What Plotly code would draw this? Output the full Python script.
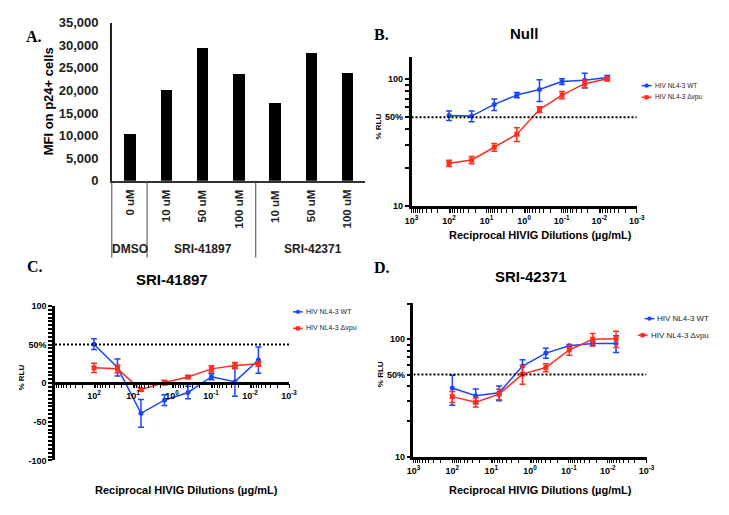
import plotly.graph_objects as go

W, H = 729, 515

# ---------------- data ----------------
# Panel A
a_categories = ["0 uM", "10 uM", "50 uM", "100 uM", "10 uM", "50 uM", "100 uM"]
a_groups = ["DMSO", "SRI-41897", "SRI-42371"]
a_mfi = [10500, 20200, 29500, 23700, 17400, 28300, 24000]
a_yticks = [0, 5000, 10000, 15000, 20000, 25000, 30000, 35000]

# Dilution series (µg/mL) for B, C, D
dilutions = [100, 25, 6.25, 1.5625, 0.390625, 0.09765625, 0.0244140625, 0.006103515625]
x_tickvals = [1000, 100, 10, 1, 0.1, 0.01, 0.001]
x_ticktext = ["10<sup>3</sup>", "10<sup>2</sup>", "10<sup>1</sup>", "10<sup>0</sup>",
              "10<sup>-1</sup>", "10<sup>-2</sup>", "10<sup>-3</sup>"]
y_log_tickvals = [10, 50, 100]
y_log_ticktext = ["10", "50%", "100"]
c_y_tickvals = [-100, -50, 0, 50, 100]
c_y_ticktext = ["-100", "-50", "0", "50%", "100"]
series_names = ["HIV NL4-3 WT", "HIV NL4-3 Δvpu"]

# Panel B (Null)
b_wt = [51.5, 51.0, 63.0, 74.6, 82.4, 95.3, 97.7, 102.4]
b_wt_err = [4.5, 5.0, 6.5, 3.5, 16.0, 5.0, 13.0, 4.0]
b_dvpu = [21.7, 23.0, 29.0, 36.7, 57.3, 74.6, 91.6, 100.0]
b_dvpu_err = [1.2, 1.5, 2.0, 4.5, 3.0, 5.0, 6.0, 4.0]

# Panel C (SRI-41897)
c_wt = [50.6, 20.3, -39.0, -22.0, -12.0, 8.4, 2.0, 30.0]
c_wt_err = [7, 11, 18, 7, 8, 4, 19, 17]
c_dvpu = [20.0, 18.6, -8.4, 0.8, 8.0, 18.6, 22.8, 25.0]
c_dvpu_err = [6, 5, 2, 3, 2, 4, 4, 3]

# Panel D (SRI-42371)
d_wt = [38.4, 33.0, 34.9, 59.0, 76.2, 88.1, 92.0, 92.0]
d_wt_err = [11, 4.7, 5, 8, 7.5, 2, 4, 15]
d_dvpu = [32.4, 29.0, 34.0, 50.4, 57.3, 81.0, 100.0, 101.0]
d_dvpu_err = [3.5, 2.5, 3.5, 9, 4.5, 8, 12, 16]

half_max = 50

# ---------------- helpers ----------------
BLUE = "rgb(25,70,255)"
RED = "rgb(255,45,30)"
SANS = "Liberation Sans, Arial, sans-serif"
SERIF = "Liberation Serif, Times New Roman, serif"


def fx(px):
    return px / W


def fy(py):
    return 1 - py / H


def with_minor(major_vals, major_text, minor_vals):
    """Merge unlabeled minor tick positions into a labelled tick list."""
    vals = list(major_vals)
    text = list(major_text)
    for v in minor_vals:
        if all(abs(v - m) > 1e-12 * max(1, abs(m)) for m in major_vals):
            vals.append(v)
            text.append("")
    return vals, text


log_minor_x = [m * 10 ** k for k in range(-3, 3) for m in range(2, 10)]
log_minor_y = [m * 10 for m in range(2, 10)] + [200]
lin_minor_c = list(range(-100, 101, 5))

fig = go.Figure()

# ---------------- Panel A ----------------
fig.add_trace(go.Bar(x=list(range(len(a_mfi))), y=a_mfi, width=0.32,
                     marker=dict(color="black", line=dict(width=0)),
                     xaxis="x", yaxis="y", showlegend=False))


# ---------------- line panels ----------------
def add_pair(xa, ya, wt, wt_err, dv, dv_err):
    for vals, errs, col, sym in ((wt, wt_err, BLUE, "circle"), (dv, dv_err, RED, "square")):
        fig.add_trace(go.Scatter(
            x=dilutions, y=vals, mode="lines+markers", xaxis=xa, yaxis=ya,
            line=dict(color=col, width=1.5),
            marker=dict(color=col, symbol=sym, size=5),
            error_y=dict(type="data", array=errs, visible=True, color=col,
                         thickness=1.5, width=3),
            showlegend=False, cliponaxis=False))
    fig.add_trace(go.Scatter(
        x=[x_tickvals[0], x_tickvals[-1]], y=[half_max, half_max], mode="lines",
        xaxis=xa, yaxis=ya, line=dict(color="black", width=2, dash="2px,2px"),
        showlegend=False, hoverinfo="skip"))


add_pair("x2", "y2", b_wt, b_wt_err, b_dvpu, b_dvpu_err)
add_pair("x3", "y3", c_wt, c_wt_err, c_dvpu, c_dvpu_err)
add_pair("x4", "y4", d_wt, d_wt_err, d_dvpu, d_dvpu_err)

tickfont = dict(family=SANS, size=9, color="black", weight="bold")


def log_xaxis(x0, x1, anchor, tv, tt, position=None):
    vals, text = with_minor(tv, tt, log_minor_x)
    d = dict(type="log", range=[3, -3], domain=[fx(x0), fx(x1)],
             tickmode="array", tickvals=vals, ticktext=text, tickfont=tickfont,
             ticks="outside", ticklen=4, tickwidth=1.2, tickcolor="black",
             showline=True, linecolor="black", linewidth=2.5,
             showgrid=False, zeroline=False)
    if position is None:
        d["anchor"] = anchor
    else:
        d["anchor"] = "free"
        d["position"] = position
    return d


def log_yaxis(top, bottom, anchor, rng):
    vals, text = with_minor(y_log_tickvals, y_log_ticktext, log_minor_y)
    return dict(type="log", range=rng, domain=[fy(bottom), fy(top)], anchor=anchor,
                tickmode="array", tickvals=vals, ticktext=text,
                tickfont=tickfont, ticks="outside", ticklen=4, tickwidth=2,
                tickcolor="black", showline=True, linecolor="black", linewidth=2.5,
                showgrid=False, zeroline=False)


c_vals, c_text = with_minor(c_y_tickvals, c_y_ticktext, lin_minor_c)

fig.update_layout(
    width=W, height=H, margin=dict(l=0, r=0, t=0, b=0),
    paper_bgcolor="white", plot_bgcolor="white",
    showlegend=False, bargap=0,
    xaxis=dict(domain=[fx(107), fx(366)], range=[-0.5, 6.5], anchor="y",
               showticklabels=False, ticks="", showline=True, linecolor="#333",
               linewidth=1.5, showgrid=False, zeroline=False),
    yaxis=dict(domain=[fy(179), fy(16)], range=[0, 35000], anchor="x",
               tickmode="array", tickvals=a_yticks, tickformat=",",
               tickfont=dict(family=SANS, size=13, color="#222", weight="bold"),
               ticks="", ticklabelstandoff=9, showline=True, linecolor="#222",
               linewidth=1.5, showgrid=False, zeroline=False),
    xaxis2=log_xaxis(413, 643, "y2", x_tickvals, x_ticktext),
    yaxis2=log_yaxis(52, 205, "x2", [1, 2.168]),
    xaxis3=log_xaxis(49, 288, None, x_tickvals[1:], x_ticktext[1:], position=fy(387)),
    yaxis3=dict(range=[-100, 100], domain=[fy(467), fy(308)], anchor="x3",
                tickmode="array", tickvals=c_vals, ticktext=c_text, tickfont=tickfont,
                ticks="outside", ticklen=4, tickwidth=1.5, tickcolor="black",
                showline=True, linecolor="black", linewidth=2.5,
                showgrid=False, zeroline=False),
    xaxis4=log_xaxis(415, 653, "y4", x_tickvals, x_ticktext),
    yaxis4=log_yaxis(305, 463, "x4", [1, 2.308]),
)

shapes = []
annotations = []

# Panel A table
for xp in (107, 143, 254):
    shapes.append(dict(type="line", xref="paper", yref="paper", x0=fx(xp), x1=fx(xp),
                       y0=fy(179), y1=fy(258), line=dict(color="#444", width=1)))
for i, lab in enumerate(a_categories):
    annotations.append(dict(x=i, xref="x", y=fy(186), yref="paper", text="<b>%s</b>" % lab,
                            textangle=-90, xanchor="center", yanchor="top", showarrow=False,
                            font=dict(family=SANS, size=11.5, color="#222")))
for lab, xc in zip(a_groups, (126, 200, 312)):
    annotations.append(dict(x=fx(xc), y=fy(249), xref="paper", yref="paper",
                            text="<b>%s</b>" % lab, showarrow=False, xanchor="center",
                            yanchor="middle", font=dict(family=SANS, size=12, color="#222")))


def txt(x, y, s, size, family=SANS, angle=0, xanchor="center", bold=True):
    annotations.append(dict(x=fx(x), y=fy(y), xref="paper", yref="paper",
                            text=("<b>%s</b>" % s) if bold else s, showarrow=False,
                            textangle=angle, xanchor=xanchor, yanchor="middle",
                            font=dict(family=family, size=size, color="black")))


# panel letters
txt(17, 30, "A.", 16, SERIF, xanchor="left")
txt(373, 28, "B.", 16, SERIF, xanchor="left")
txt(18, 267, "C.", 16, SERIF, xanchor="left")
txt(373, 268, "D.", 16, SERIF, xanchor="left")

# titles
txt(42, 97, "MFI on p24+ cells", 13, angle=-90)
txt(528, 27, "Null", 15)
txt(168, 281, "SRI-41897", 15)
txt(535, 278, "SRI-42371", 15)

xtitle = "Reciprocal HIVIG Dilutions (µg/mL)"
txt(545, 235, xtitle, 11)
txt(183, 498, xtitle, 11)
txt(545, 498, xtitle, 11)
txt(379, 123, "% RLU", 8, angle=-90)
txt(15, 382, "% RLU", 8, angle=-90)
txt(382, 378, "% RLU", 8, angle=-90)


# manual legends
def legend_entry(x_line0, x_line1, y, color, sym, text_x, text, size):
    shapes.append(dict(type="line", xref="paper", yref="paper", x0=fx(x_line0), x1=fx(x_line1),
                       y0=fy(y), y1=fy(y), line=dict(color=color, width=1.5)))
    xc = (x_line0 + x_line1) / 2
    r = 2.2
    shapes.append(dict(type="circle" if sym == "circle" else "rect", xref="paper", yref="paper",
                       x0=fx(xc - r), x1=fx(xc + r), y0=fy(y + r), y1=fy(y - r),
                       fillcolor=color, line=dict(color=color, width=0)))
    annotations.append(dict(x=fx(text_x), y=fy(y), xref="paper", yref="paper", text=text,
                            showarrow=False, xanchor="left", yanchor="middle",
                            font=dict(family=SANS, size=size, color="#222")))


legend_entry(648, 658, 81, BLUE, "circle", 660, series_names[0], 6.5)
legend_entry(648, 658, 93, RED, "square", 660, series_names[1], 6.5)
legend_entry(292, 302, 314, BLUE, "circle", 303, series_names[0], 7)
legend_entry(292, 302, 331, RED, "square", 303, series_names[1], 7)
legend_entry(651, 661, 321, BLUE, "circle", 662, series_names[0], 8)
legend_entry(644, 654, 338, RED, "square", 655, series_names[1], 8)

fig.update_layout(shapes=shapes, annotations=annotations)

fig.write_html("out.html", include_plotlyjs=True, config={"displayModeBar": False},
               post_script="document.body.style.margin='0';document.body.style.overflow='hidden';")
